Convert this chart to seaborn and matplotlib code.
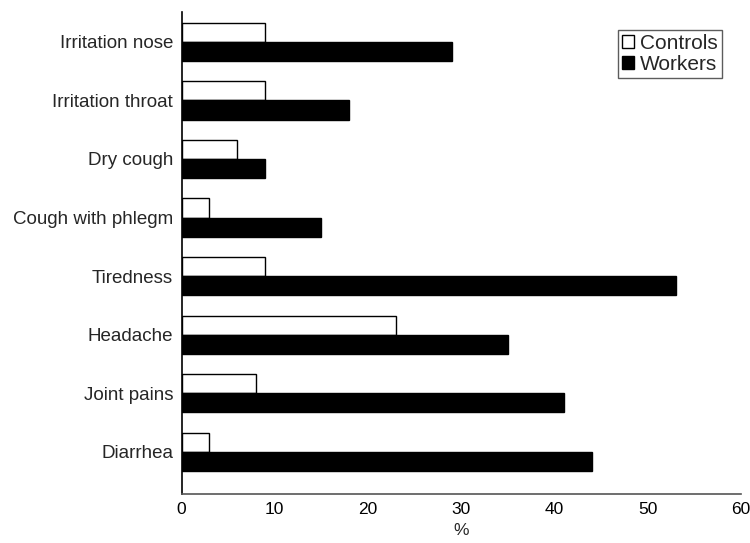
import pandas as pd
import numpy as np
import matplotlib
matplotlib.use("Agg")
import matplotlib.pyplot as plt
import seaborn as sns
from matplotlib.patches import Patch
from matplotlib.ticker import MultipleLocator

symptoms = ["Irritation nose", "Irritation throat", "Dry cough", "Cough with phlegm",
            "Tiredness", "Headache", "Joint pains", "Diarrhea"]
controls = [9, 9, 6, 3, 9, 23, 8, 3]
workers = [29, 18, 9, 15, 53, 35, 41, 44]
groups = ["Controls", "Workers"]

df = pd.DataFrame({
    "symptom": symptoms * 2,
    "pct": controls + workers,
    "group": ["Controls"] * len(symptoms) + ["Workers"] * len(symptoms),
})

sns.set_style("white")
plt.rcParams["font.family"] = ["Liberation Sans", "DejaVu Sans"]

fig = plt.figure(figsize=(7.5, 5.43), dpi=100)
ax = fig.add_axes([0.242, 0.0902, 0.746, 0.8883])

sns.barplot(data=df, x="pct", y="symptom", hue="group", hue_order=groups,
            order=symptoms, orient="h", palette={"Controls": "white", "Workers": "black"},
            edgecolor="black", linewidth=1.0, width=0.65, saturation=1, ax=ax)

ax.set_xlim(0, 60)
ax.set_ylim(7.726, -0.518)
ax.xaxis.set_major_locator(MultipleLocator(10))
ax.xaxis.set_minor_locator(MultipleLocator(2.5))
ax.tick_params(axis="x", which="major", direction="in", length=10, width=1, colors="#555555",
               labelcolor="black", labelsize=12.5, pad=6)
ax.tick_params(axis="x", which="minor", direction="in", length=5, width=1, colors="#555555")
ax.tick_params(axis="y", length=0, labelsize=13.5, pad=6)
ax.set_xlabel("%", fontsize=12.5, labelpad=4)
ax.set_ylabel("")

sns.despine(ax=ax, top=True, right=True)
ax.spines["left"].set_color("black")
ax.spines["left"].set_linewidth(1.2)
ax.spines["bottom"].set_color("#555555")
ax.spines["bottom"].set_linewidth(1.2)

handles = [Patch(facecolor="white", edgecolor="black", linewidth=1),
           Patch(facecolor="black", edgecolor="black", linewidth=1)]
leg = ax.legend(handles, groups, loc="upper right", bbox_to_anchor=(0.966, 0.962),
                fontsize=15, frameon=True, fancybox=False, borderpad=0.2,
                handlelength=0.58, handleheight=0.58, handletextpad=0.29, labelspacing=0.1,
                borderaxespad=0)
leg.get_frame().set_edgecolor("#333333")
leg.get_frame().set_linewidth(1)

fig.savefig("out.png", dpi=100)
plt.close(fig)
